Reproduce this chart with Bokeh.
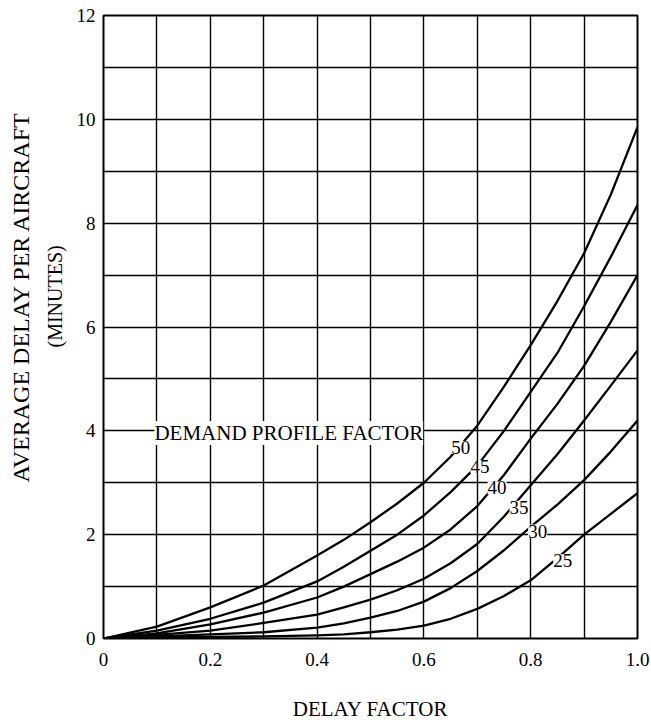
from bokeh.plotting import figure
from bokeh.models import Range1d, FixedTicker, Label, Title
from bokeh.embed import file_html
from bokeh.resources import INLINE

# ---- data ----
delay_factor = [0, 0.1, 0.2, 0.3, 0.4, 0.45, 0.5, 0.55, 0.6, 0.65, 0.7, 0.75, 0.8, 0.85, 0.9, 0.95, 1.0]
dpf_50 = [0, 0.23, 0.6, 1.02, 1.6, 1.9, 2.24, 2.6, 3.0, 3.5, 4.1, 4.85, 5.65, 6.5, 7.42, 8.55, 9.85]
dpf_45 = [0, 0.15, 0.38, 0.69, 1.1, 1.38, 1.69, 2.0, 2.37, 2.82, 3.33, 4.0, 4.75, 5.5, 6.4, 7.35, 8.35]
dpf_40 = [0, 0.1, 0.27, 0.5, 0.79, 1.0, 1.24, 1.48, 1.75, 2.1, 2.55, 3.15, 3.85, 4.52, 5.25, 6.1, 7.0]
dpf_35 = [0, 0.07, 0.15, 0.3, 0.46, 0.6, 0.75, 0.93, 1.15, 1.45, 1.82, 2.35, 2.95, 3.55, 4.2, 4.87, 5.55]
dpf_30 = [0, 0.04, 0.08, 0.12, 0.21, 0.29, 0.4, 0.53, 0.71, 0.97, 1.3, 1.7, 2.15, 2.58, 3.05, 3.6, 4.2]
dpf_25 = [0, 0.02, 0.03, 0.04, 0.06, 0.08, 0.12, 0.17, 0.25, 0.38, 0.57, 0.82, 1.12, 1.55, 2.0, 2.4, 2.8]
series = [dpf_50, dpf_45, dpf_40, dpf_35, dpf_30, dpf_25]
series_names = ["50", "45", "40", "35", "30", "25"]

x_ticks = [0, 0.2, 0.4, 0.6, 0.8, 1.0]
y_ticks = [0, 2, 4, 6, 8, 10, 12]
x_grid = [0, 0.1, 0.2, 0.3, 0.4, 0.5, 0.6, 0.7, 0.8, 0.9, 1.0]
y_grid = [0, 1, 2, 3, 4, 5, 6, 7, 8, 9, 10, 11, 12]

FONT = "Liberation Serif"

p = figure(width=651, height=724, output_backend="svg", toolbar_location=None,
           x_range=Range1d(0, 1), y_range=Range1d(0, 12),
           min_border_left=103, min_border_right=14, min_border_top=15,
           min_border_bottom=86)
p.background_fill_color = "white"
p.border_fill_color = "white"
p.outline_line_color = "black"
p.outline_line_width = 2
p.outline_line_alpha = 1

# grid
p.xgrid.ticker = FixedTicker(ticks=x_grid)
p.ygrid.ticker = FixedTicker(ticks=y_grid)
for g in (p.xgrid, p.ygrid):
    g.grid_line_color = "black"
    g.grid_line_width = 1.4
    g.grid_line_alpha = 1

# axes
xa = p.xaxis[0]
ya = p.yaxis[0]
xa.ticker = FixedTicker(ticks=x_ticks)
ya.ticker = FixedTicker(ticks=y_ticks)
xa.major_label_overrides = {0: "0", 0.2: "0.2", 0.4: "0.4", 0.6: "0.6", 0.8: "0.8", 1: "1.0"}
for ax in (xa, ya):
    ax.axis_line_color = None
    ax.major_tick_line_color = None
    ax.minor_tick_line_color = None
    ax.major_label_text_font = FONT
    ax.major_label_text_font_size = "19px"
    ax.major_label_text_color = "black"
xa.major_label_standoff = 8
ya.major_label_standoff = 2

xa.axis_label = "DELAY FACTOR"
xa.axis_label_text_font = FONT
xa.axis_label_text_font_size = "21px"
xa.axis_label_text_font_style = "normal"
xa.axis_label_text_color = "black"
xa.axis_label_standoff = 28

# y axis title, two lines, as side titles
t_min = Title(text="(MINUTES)", align="left", offset=291, standoff=16,
              text_line_height=0.6,
              text_font=FONT, text_font_size="20px", text_font_style="normal",
              text_color="black")
t_avg = Title(text="AVERAGE DELAY PER AIRCRAFT", align="left", offset=156, standoff=0,
              text_font=FONT, text_font_size="24px", text_font_style="normal",
              text_color="black")
p.add_layout(t_min, "left")
p.add_layout(t_avg, "left")

# curves
for ys in series:
    p.line(delay_factor, ys, line_color="black", line_width=2.3, line_join="round")

# curve labels
label_pos = {"50": (0.669, 3.68), "45": (0.705, 3.31), "40": (0.737, 2.9),
             "35": (0.778, 2.53), "30": (0.813, 2.07), "25": (0.86, 1.5)}
for name in series_names:
    lx, ly = label_pos[name]
    p.add_layout(Label(x=lx, y=ly, text=name, text_align="center", text_baseline="middle",
                       text_font=FONT, text_font_size="19px", text_color="black",
                       background_fill_color="white", background_fill_alpha=1))

p.add_layout(Label(x=0.347, y=3.96, text="DEMAND PROFILE FACTOR", text_align="center",
                   text_baseline="middle", text_font=FONT, text_font_size="21px",
                   text_color="black", background_fill_color="white",
                   background_fill_alpha=1))

open("out.html", "w").write(file_html(p, INLINE))
